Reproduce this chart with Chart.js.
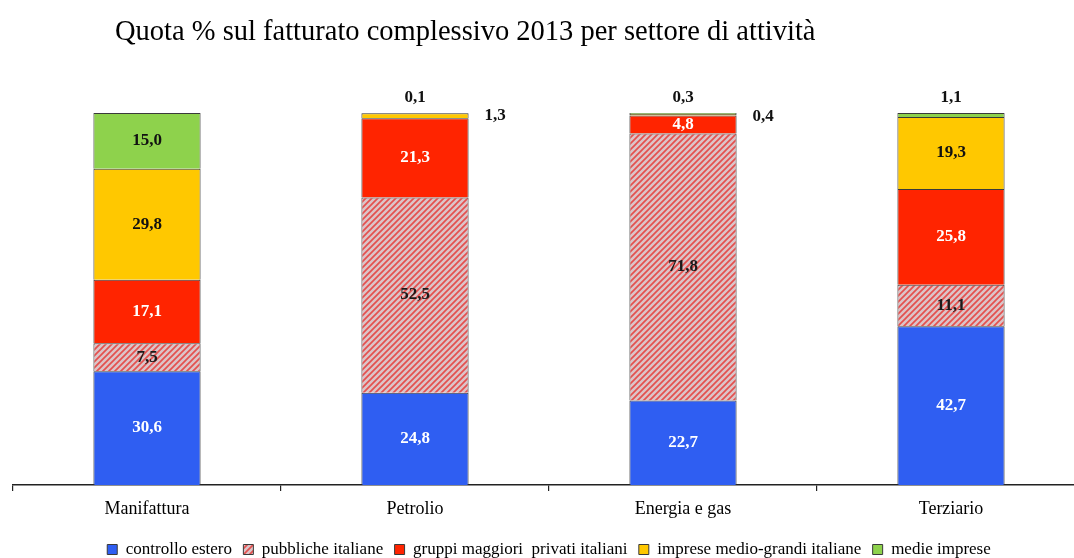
<!DOCTYPE html>
<html><head><meta charset="utf-8">
<script src="https://cdn.jsdelivr.net/npm/chart.js@4"></script>
<style>html,body{margin:0;padding:0;background:#fff;overflow:hidden;}#wrap{position:relative;width:1090px;height:558px;}</style>
</head><body><div id="wrap"><canvas id="c"></canvas></div>
<script>
const titleText = 'Quota % sul fatturato complessivo 2013 per settore di attività';
const categories = ['Manifattura', 'Petrolio', 'Energia e gas', 'Terziario'];
const seriesNames = ['controllo estero', 'pubbliche italiane', 'gruppi maggiori  privati italiani', 'imprese medio-grandi italiane', 'medie imprese'];
const controlloEstero = [30.6, 24.8, 22.7, 42.7];
const pubblicheItaliane = [7.5, 52.5, 71.8, 11.1];
const gruppiMaggiori = [17.1, 21.3, 4.8, 25.8];
const impreseMedioGrandi = [29.8, 1.3, 0.4, 19.3];
const medieImprese = [15.0, 0.1, 0.3, 1.1];

function makeHatch() {
  const s = 6, c = document.createElement('canvas');
  c.width = s; c.height = s;
  const x = c.getContext('2d');
  x.fillStyle = '#dcc4c8'; x.fillRect(0, 0, s, s);
  x.strokeStyle = '#e4504e'; x.lineWidth = 1.7;
  x.beginPath();
  x.moveTo(0, s); x.lineTo(s, 0);
  x.moveTo(-s / 2, s / 2); x.lineTo(s / 2, -s / 2);
  x.moveTo(s / 2, s * 1.5); x.lineTo(s * 1.5, s / 2);
  x.stroke();
  return x.createPattern(c, 'repeat');
}
const hatch = makeHatch();
const colors = ['#2f5ef2', hatch, '#ff2400', '#ffc800', '#8ed24c'];
const labelColors = ['#ffffff', '#1a1a1a', '#ffffff', '#111111', '#111111'];
const values = [controlloEstero, pubblicheItaliane, gruppiMaggiori, impreseMedioGrandi, medieImprese];

const serif = '"Liberation Serif", "Times New Roman", serif';

const valueLabels = {
  id: 'valueLabels',
  afterDatasetsDraw(chart) {
    const ctx = chart.ctx;
    const n = chart.data.datasets.length;
    ctx.save();
    ctx.font = 'bold 17px ' + serif;
    ctx.textBaseline = 'middle';
    chart.data.datasets.forEach((ds, di) => {
      const meta = chart.getDatasetMeta(di);
      meta.data.forEach((el, i) => {
        const v = ds.data[i];
        const txt = v.toFixed(1).replace('.', ',');
        const h = Math.abs(el.base - el.y);
        let x = el.x, y = (el.y + el.base) / 2;
        ctx.textAlign = 'center';
        ctx.fillStyle = labelColors[di];
        if (h < 12) {
          ctx.fillStyle = '#111';
          if (di === n - 1) { y = el.y - 15; }
          else { x = el.x + el.width / 2 + 16; ctx.textAlign = 'left'; y = el.y + 2; }
        }
        ctx.fillText(txt, x, y);
      });
    });
    ctx.restore();
  }
};

const shiftBlocks = {
  id: 'shiftBlocks',
  afterLayout(chart) {
    if (chart.titleBlock) { chart.titleBlock.left += 102; chart.titleBlock.right += 102; }
    if (chart.legend) { chart.legend.top += 3; chart.legend.bottom += 3; }
  }
};

new Chart(document.getElementById('c'), {
  type: 'bar',
  data: {
    labels: categories,
    datasets: values.map((arr, k) => ({
      label: seriesNames[k],
      data: arr,
      backgroundColor: colors[k],
      borderColor: '#3a3a3a',
      borderWidth: 1,
      categoryPercentage: 1,
      barPercentage: 0.4
    }))
  },
  options: {
    responsive: true,
    maintainAspectRatio: false,
    animation: false,
    layout: { padding: { left: 13, right: 5, top: 0, bottom: -7 } },
    plugins: {
      title: {
        display: true, text: titleText, align: 'start', color: '#000',
        font: { family: serif, size: 28.5, weight: 'normal' },
        padding: { top: 15.4, bottom: 63.4 }
      },
      legend: {
        position: 'bottom',
        labels: {
          color: '#000', boxWidth: 10, boxHeight: 10, padding: 11.4,
          font: { family: serif, size: 17 }
        }
      },
      tooltip: { enabled: false }
    },
    scales: {
      x: {
        stacked: true,
        grid: { offset: true, drawOnChartArea: false, drawTicks: true, tickLength: 6, color: '#222', tickColor: '#222', lineWidth: 1.2 },
        border: { display: true, color: '#222', width: 1.5 },
        ticks: { color: '#000', padding: 7, font: { family: serif, size: 18 } }
      },
      y: { stacked: true, display: false, min: 0, max: 100 }
    }
  },
  plugins: [valueLabels, shiftBlocks]
});
</script>
</body></html>
